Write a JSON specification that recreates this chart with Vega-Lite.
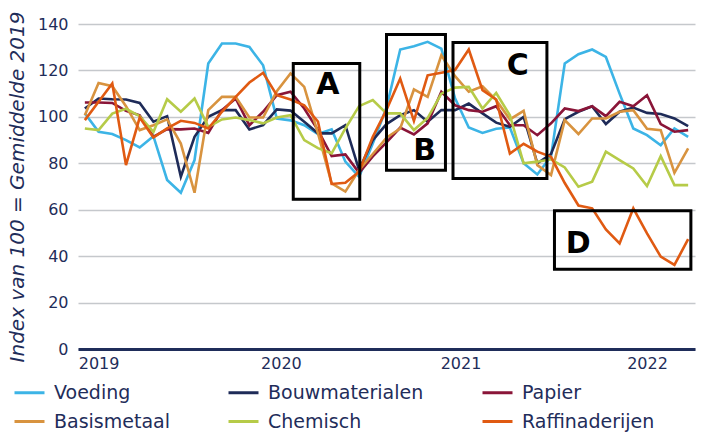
{
"$schema": "https://vega.github.io/schema/vega-lite/v6.json",
"width": 617, "height": 325,
"autosize": {"type": "none"},
"padding": {"left": 78, "top": 24, "right": 7, "bottom": 83},
"background": "white",
"config": {"view": {"stroke": null}, "font": "DejaVu Sans"},
"datasets": {
"series": [
{"t":0,"s":"Voeding","v":101.5},{"t":1,"s":"Voeding","v":93.6},{"t":2,"s":"Voeding","v":92.6},{"t":3,"s":"Voeding","v":90},{"t":4,"s":"Voeding","v":86.8},{"t":5,"s":"Voeding","v":91.7},{"t":6,"s":"Voeding","v":72.8},{"t":7,"s":"Voeding","v":67.3},{"t":8,"s":"Voeding","v":81.4},{"t":9,"s":"Voeding","v":123},{"t":10,"s":"Voeding","v":131.6},{"t":11,"s":"Voeding","v":131.6},{"t":12,"s":"Voeding","v":130.1},{"t":13,"s":"Voeding","v":122.2},{"t":14,"s":"Voeding","v":99.3},{"t":15,"s":"Voeding","v":98.5},{"t":16,"s":"Voeding","v":96.4},{"t":17,"s":"Voeding","v":92.6},{"t":18,"s":"Voeding","v":94.6},{"t":19,"s":"Voeding","v":80.7},{"t":20,"s":"Voeding","v":74.2},{"t":21,"s":"Voeding","v":88.5},{"t":22,"s":"Voeding","v":104},{"t":23,"s":"Voeding","v":129},{"t":24,"s":"Voeding","v":130.4},{"t":25,"s":"Voeding","v":132.3},{"t":26,"s":"Voeding","v":129.4},{"t":27,"s":"Voeding","v":108},{"t":28,"s":"Voeding","v":95.4},{"t":29,"s":"Voeding","v":93.1},{"t":30,"s":"Voeding","v":94.9},{"t":31,"s":"Voeding","v":95.4},{"t":32,"s":"Voeding","v":80},{"t":33,"s":"Voeding","v":75.2},{"t":34,"s":"Voeding","v":83},{"t":35,"s":"Voeding","v":123},{"t":36,"s":"Voeding","v":127},{"t":37,"s":"Voeding","v":129},{"t":38,"s":"Voeding","v":125.8},{"t":39,"s":"Voeding","v":110},{"t":40,"s":"Voeding","v":95},{"t":41,"s":"Voeding","v":92.1},{"t":42,"s":"Voeding","v":87.8},{"t":43,"s":"Voeding","v":95},{"t":44,"s":"Voeding","v":91.4},
{"t":0,"s":"Bouwmaterialen","v":103.6},{"t":1,"s":"Bouwmaterialen","v":107.9},{"t":2,"s":"Bouwmaterialen","v":107.6},{"t":3,"s":"Bouwmaterialen","v":107.5},{"t":4,"s":"Bouwmaterialen","v":106},{"t":5,"s":"Bouwmaterialen","v":97.9},{"t":6,"s":"Bouwmaterialen","v":100.3},{"t":7,"s":"Bouwmaterialen","v":74.2},{"t":8,"s":"Bouwmaterialen","v":91.4},{"t":9,"s":"Bouwmaterialen","v":100},{"t":10,"s":"Bouwmaterialen","v":102.9},{"t":11,"s":"Bouwmaterialen","v":102.9},{"t":12,"s":"Bouwmaterialen","v":94.6},{"t":13,"s":"Bouwmaterialen","v":96.4},{"t":14,"s":"Bouwmaterialen","v":103.2},{"t":15,"s":"Bouwmaterialen","v":102.7},{"t":16,"s":"Bouwmaterialen","v":97.9},{"t":17,"s":"Bouwmaterialen","v":92.9},{"t":18,"s":"Bouwmaterialen","v":92.9},{"t":19,"s":"Bouwmaterialen","v":96.4},{"t":20,"s":"Bouwmaterialen","v":77.1},{"t":21,"s":"Bouwmaterialen","v":90},{"t":22,"s":"Bouwmaterialen","v":96.9},{"t":23,"s":"Bouwmaterialen","v":100.7},{"t":24,"s":"Bouwmaterialen","v":102.9},{"t":25,"s":"Bouwmaterialen","v":97.9},{"t":26,"s":"Bouwmaterialen","v":102.9},{"t":27,"s":"Bouwmaterialen","v":102.9},{"t":28,"s":"Bouwmaterialen","v":105.7},{"t":29,"s":"Bouwmaterialen","v":101.5},{"t":30,"s":"Bouwmaterialen","v":97.5},{"t":31,"s":"Bouwmaterialen","v":95.7},{"t":32,"s":"Bouwmaterialen","v":100},{"t":33,"s":"Bouwmaterialen","v":80},{"t":34,"s":"Bouwmaterialen","v":84},{"t":35,"s":"Bouwmaterialen","v":99},{"t":36,"s":"Bouwmaterialen","v":102.2},{"t":37,"s":"Bouwmaterialen","v":104.5},{"t":38,"s":"Bouwmaterialen","v":96.9},{"t":39,"s":"Bouwmaterialen","v":102.2},{"t":40,"s":"Bouwmaterialen","v":104},{"t":41,"s":"Bouwmaterialen","v":101.7},{"t":42,"s":"Bouwmaterialen","v":101.2},{"t":43,"s":"Bouwmaterialen","v":99.3},{"t":44,"s":"Bouwmaterialen","v":96},
{"t":0,"s":"Papier","v":106.2},{"t":1,"s":"Papier","v":106.2},{"t":2,"s":"Papier","v":106},{"t":3,"s":"Papier","v":102.6},{"t":4,"s":"Papier","v":100.7},{"t":5,"s":"Papier","v":91.4},{"t":6,"s":"Papier","v":94.7},{"t":7,"s":"Papier","v":94.6},{"t":8,"s":"Papier","v":95},{"t":9,"s":"Papier","v":93.1},{"t":10,"s":"Papier","v":102.9},{"t":11,"s":"Papier","v":107.9},{"t":12,"s":"Papier","v":96.4},{"t":13,"s":"Papier","v":102.2},{"t":14,"s":"Papier","v":109.3},{"t":15,"s":"Papier","v":110.8},{"t":16,"s":"Papier","v":103.6},{"t":17,"s":"Papier","v":94.3},{"t":18,"s":"Papier","v":83.1},{"t":19,"s":"Papier","v":83.8},{"t":20,"s":"Papier","v":75.9},{"t":21,"s":"Papier","v":83},{"t":22,"s":"Papier","v":89},{"t":23,"s":"Papier","v":95.4},{"t":24,"s":"Papier","v":92.4},{"t":25,"s":"Papier","v":97.2},{"t":26,"s":"Papier","v":110.8},{"t":27,"s":"Papier","v":105},{"t":28,"s":"Papier","v":102.9},{"t":29,"s":"Papier","v":102.2},{"t":30,"s":"Papier","v":104.6},{"t":31,"s":"Papier","v":96.4},{"t":32,"s":"Papier","v":96.4},{"t":33,"s":"Papier","v":92.1},{"t":34,"s":"Papier","v":97.2},{"t":35,"s":"Papier","v":103.6},{"t":36,"s":"Papier","v":102.5},{"t":37,"s":"Papier","v":104.6},{"t":38,"s":"Papier","v":100.3},{"t":39,"s":"Papier","v":106.5},{"t":40,"s":"Papier","v":104.6},{"t":41,"s":"Papier","v":109.3},{"t":42,"s":"Papier","v":96.9},{"t":43,"s":"Papier","v":93.6},{"t":44,"s":"Papier","v":94.3},
{"t":0,"s":"Basismetaal","v":100.7},{"t":1,"s":"Basismetaal","v":114.6},{"t":2,"s":"Basismetaal","v":113.2},{"t":3,"s":"Basismetaal","v":104.6},{"t":4,"s":"Basismetaal","v":94.3},{"t":5,"s":"Basismetaal","v":96.4},{"t":6,"s":"Basismetaal","v":98.9},{"t":7,"s":"Basismetaal","v":88.5},{"t":8,"s":"Basismetaal","v":67.3},{"t":9,"s":"Basismetaal","v":102.9},{"t":10,"s":"Basismetaal","v":108.6},{"t":11,"s":"Basismetaal","v":108.6},{"t":12,"s":"Basismetaal","v":99.7},{"t":13,"s":"Basismetaal","v":99.7},{"t":14,"s":"Basismetaal","v":111},{"t":15,"s":"Basismetaal","v":118.7},{"t":16,"s":"Basismetaal","v":112.9},{"t":17,"s":"Basismetaal","v":93},{"t":18,"s":"Basismetaal","v":71.3},{"t":19,"s":"Basismetaal","v":67.8},{"t":20,"s":"Basismetaal","v":77.1},{"t":21,"s":"Basismetaal","v":84},{"t":22,"s":"Basismetaal","v":91},{"t":23,"s":"Basismetaal","v":95},{"t":24,"s":"Basismetaal","v":111.8},{"t":25,"s":"Basismetaal","v":108.6},{"t":26,"s":"Basismetaal","v":126.5},{"t":27,"s":"Basismetaal","v":117.5},{"t":28,"s":"Basismetaal","v":110.8},{"t":29,"s":"Basismetaal","v":113.2},{"t":30,"s":"Basismetaal","v":107.2},{"t":31,"s":"Basismetaal","v":98.9},{"t":32,"s":"Basismetaal","v":102.6},{"t":33,"s":"Basismetaal","v":79.2},{"t":34,"s":"Basismetaal","v":74.9},{"t":35,"s":"Basismetaal","v":98.6},{"t":36,"s":"Basismetaal","v":92.6},{"t":37,"s":"Basismetaal","v":99.3},{"t":38,"s":"Basismetaal","v":99.3},{"t":39,"s":"Basismetaal","v":102.2},{"t":40,"s":"Basismetaal","v":102.9},{"t":41,"s":"Basismetaal","v":94.9},{"t":42,"s":"Basismetaal","v":94.3},{"t":43,"s":"Basismetaal","v":75.9},{"t":44,"s":"Basismetaal","v":86.4},
{"t":0,"s":"Chemisch","v":95},{"t":1,"s":"Chemisch","v":94.3},{"t":2,"s":"Chemisch","v":101.4},{"t":3,"s":"Chemisch","v":103.5},{"t":4,"s":"Chemisch","v":100.3},{"t":5,"s":"Chemisch","v":93.5},{"t":6,"s":"Chemisch","v":107.6},{"t":7,"s":"Chemisch","v":102.2},{"t":8,"s":"Chemisch","v":107.9},{"t":9,"s":"Chemisch","v":95.7},{"t":10,"s":"Chemisch","v":98.9},{"t":11,"s":"Chemisch","v":99.7},{"t":12,"s":"Chemisch","v":98.6},{"t":13,"s":"Chemisch","v":97.2},{"t":14,"s":"Chemisch","v":99.7},{"t":15,"s":"Chemisch","v":100.7},{"t":16,"s":"Chemisch","v":90},{"t":17,"s":"Chemisch","v":86.5},{"t":18,"s":"Chemisch","v":84.3},{"t":19,"s":"Chemisch","v":95},{"t":20,"s":"Chemisch","v":104.6},{"t":21,"s":"Chemisch","v":107.2},{"t":22,"s":"Chemisch","v":101.5},{"t":23,"s":"Chemisch","v":101.5},{"t":24,"s":"Chemisch","v":94.3},{"t":25,"s":"Chemisch","v":99.5},{"t":26,"s":"Chemisch","v":110},{"t":27,"s":"Chemisch","v":112.6},{"t":28,"s":"Chemisch","v":112.9},{"t":29,"s":"Chemisch","v":103.6},{"t":30,"s":"Chemisch","v":110.3},{"t":31,"s":"Chemisch","v":100.7},{"t":32,"s":"Chemisch","v":80},{"t":33,"s":"Chemisch","v":80.7},{"t":34,"s":"Chemisch","v":81.7},{"t":35,"s":"Chemisch","v":78.2},{"t":36,"s":"Chemisch","v":69.9},{"t":37,"s":"Chemisch","v":72.1},{"t":38,"s":"Chemisch","v":85},{"t":39,"s":"Chemisch","v":81.4},{"t":40,"s":"Chemisch","v":77.8},{"t":41,"s":"Chemisch","v":70.2},{"t":42,"s":"Chemisch","v":83.1},{"t":43,"s":"Chemisch","v":70.6},{"t":44,"s":"Chemisch","v":70.6},
{"t":0,"s":"Raffinaderijen","v":98.6},{"t":1,"s":"Raffinaderijen","v":106.5},{"t":2,"s":"Raffinaderijen","v":114.4},{"t":3,"s":"Raffinaderijen","v":79.2},{"t":4,"s":"Raffinaderijen","v":99.7},{"t":5,"s":"Raffinaderijen","v":91.1},{"t":6,"s":"Raffinaderijen","v":95},{"t":7,"s":"Raffinaderijen","v":98.3},{"t":8,"s":"Raffinaderijen","v":97.4},{"t":9,"s":"Raffinaderijen","v":95},{"t":10,"s":"Raffinaderijen","v":102.2},{"t":11,"s":"Raffinaderijen","v":108.6},{"t":12,"s":"Raffinaderijen","v":114.8},{"t":13,"s":"Raffinaderijen","v":119},{"t":14,"s":"Raffinaderijen","v":109.3},{"t":15,"s":"Raffinaderijen","v":107.5},{"t":16,"s":"Raffinaderijen","v":105},{"t":17,"s":"Raffinaderijen","v":98},{"t":18,"s":"Raffinaderijen","v":71.1},{"t":19,"s":"Raffinaderijen","v":71.6},{"t":20,"s":"Raffinaderijen","v":76.4},{"t":21,"s":"Raffinaderijen","v":91.4},{"t":22,"s":"Raffinaderijen","v":103},{"t":23,"s":"Raffinaderijen","v":116.5},{"t":24,"s":"Raffinaderijen","v":98.3},{"t":25,"s":"Raffinaderijen","v":117.9},{"t":26,"s":"Raffinaderijen","v":119},{"t":27,"s":"Raffinaderijen","v":120.2},{"t":28,"s":"Raffinaderijen","v":129},{"t":29,"s":"Raffinaderijen","v":111.5},{"t":30,"s":"Raffinaderijen","v":107.5},{"t":31,"s":"Raffinaderijen","v":84.2},{"t":32,"s":"Raffinaderijen","v":88.4},{"t":33,"s":"Raffinaderijen","v":85},{"t":34,"s":"Raffinaderijen","v":82.8},{"t":35,"s":"Raffinaderijen","v":71.5},{"t":36,"s":"Raffinaderijen","v":61.8},{"t":37,"s":"Raffinaderijen","v":60.6},{"t":38,"s":"Raffinaderijen","v":51.5},{"t":39,"s":"Raffinaderijen","v":45.5},{"t":40,"s":"Raffinaderijen","v":60.6},{"t":41,"s":"Raffinaderijen","v":49.8},{"t":42,"s":"Raffinaderijen","v":39.8},{"t":43,"s":"Raffinaderijen","v":36.2},{"t":44,"s":"Raffinaderijen","v":47.3}
],
"boxes": [
{"label":"A","t":15.2,"t2":20.05,"v":64.5,"v2":123},
{"label":"B","t":22.0,"t2":26.3,"v":77,"v2":135.5},
{"label":"C","t":26.85,"t2":33.7,"v":73.5,"v2":132},
{"label":"D","t":34.25,"t2":44.2,"v":34.4,"v2":59.6}
],
"labels": [
{"label":"A","t":17.73,"v":113.6},
{"label":"B","t":24.78,"v":85.4},
{"label":"C","t":31.58,"v":122},
{"label":"D","t":35.98,"v":45.2}
]
},
"encoding": {
"x": {"field": "t", "type": "quantitative",
 "scale": {"domain": [-0.5, 44.5], "nice": false, "zero": false},
 "axis": {"title": null, "values": [1, 14.3, 27.4, 41],
  "labelExpr": "datum.value < 7 ? '2019' : datum.value < 20 ? '2020' : datum.value < 34 ? '2021' : '2022'",
  "grid": false, "ticks": false, "domainColor": "#1f2d5a", "domainWidth": 3,
  "labelColor": "#1f2d5a", "labelFontSize": 16, "labelPadding": 6, "labelOverlap": false, "labelFlush": false}},
"y": {"field": "v", "type": "quantitative",
 "scale": {"domain": [0, 140], "nice": false},
 "axis": {"title": "Index van 100 = Gemiddelde 2019", "values": [0,20,40,60,80,100,120,140],
  "grid": true, "gridColor": "#c5c8cc", "gridWidth": 1.5, "domain": false, "ticks": false,
  "labelColor": "#1f2d5a", "labelFontSize": 16, "labelPadding": 10,
  "titleFontSize": 20, "titleFontStyle": "italic", "titleFontWeight": "normal", "titleColor": "#1f2d5a", "titlePadding": 10}}
},
"layer": [
{"data": {"name": "series"},
 "mark": {"type": "line", "strokeWidth": 2.6},
 "encoding": {
  "color": {"field": "s", "type": "nominal",
   "scale": {"domain": ["Voeding","Bouwmaterialen","Papier","Basismetaal","Chemisch","Raffinaderijen"],
             "range": ["#3cb4e6","#1e2b58","#8a1538","#d8933f","#b6cb48","#e05a12"]},
   "legend": {"orient": "none", "legendX": -65, "legendY": 352, "direction": "horizontal", "columns": 3,
     "title": null, "symbolType": "stroke", "symbolSize": 900, "symbolStrokeWidth": 3,
     "labelFontSize": 19, "labelColor": "#1f2d5a", "labelOffset": 8, "columnPadding": 52, "rowPadding": 2, "labelLimit": 300}}
 }},
{"data": {"name": "boxes"},
 "mark": {"type": "rect", "fill": null, "fillOpacity": 0, "stroke": "black", "strokeWidth": 3},
 "encoding": {"x2": {"field": "t2"}, "y2": {"field": "v2"}}},
{"data": {"name": "labels"},
 "mark": {"type": "text", "fontSize": 30, "fontWeight": "bold", "color": "black", "align": "center", "baseline": "middle"},
 "encoding": {"text": {"field": "label"}}}
]
}
